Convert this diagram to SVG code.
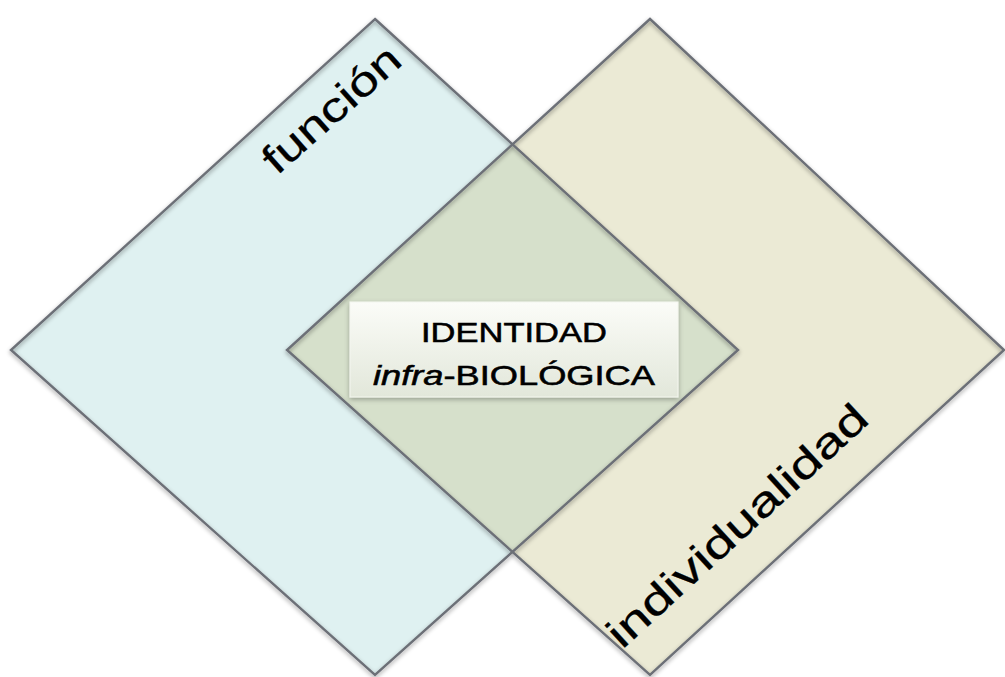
<svg xmlns="http://www.w3.org/2000/svg" width="1005" height="677" viewBox="0 0 1005 677">
  <defs>
    <filter id="soft" x="-5%" y="-5%" width="110%" height="110%">
      <feGaussianBlur in="SourceAlpha" stdDeviation="2.2"/>
      <feOffset dx="0" dy="1.5" result="b"/>
      <feFlood flood-color="#000" flood-opacity="0.4"/>
      <feComposite in2="b" operator="in" result="s"/>
      <feMerge><feMergeNode in="s"/><feMergeNode in="SourceGraphic"/></feMerge>
    </filter>
    <linearGradient id="boxFill" x1="0" y1="0" x2="0" y2="1">
      <stop offset="0" stop-color="#fbfcf8"/>
      <stop offset="1" stop-color="#e2e7da"/>
    </linearGradient>
    <filter id="boxShadow" x="-10%" y="-20%" width="120%" height="150%">
      <feGaussianBlur in="SourceAlpha" stdDeviation="2.5"/>
      <feOffset dx="0" dy="2" result="b"/>
      <feFlood flood-color="#000" flood-opacity="0.3"/>
      <feComposite in2="b" operator="in" result="s"/>
      <feMerge><feMergeNode in="s"/><feMergeNode in="SourceGraphic"/></feMerge>
    </filter>
  </defs>
  <style>
    .edge { fill: none; stroke: #6c6f77; stroke-width: 2.4; stroke-linejoin: miter; }
    .label { font-family: "Liberation Sans", Arial, sans-serif; fill: #000; }
    .big { font-size: 41px; stroke: #000; stroke-width: 0.3; }
    .title { font-size: 28px; text-anchor: middle; stroke: #000; stroke-width: 0.55; }
  </style>

  <rect width="1005" height="677" fill="#ffffff"/>

  <!-- function domain -->
  <g id="funcion">
    <polygon points="375,19 738,350 375,675 11,350" fill="#dff1f1"/>
  </g>

  <!-- individuality domain -->
  <g id="individualidad">
    <polygon points="650,19 1004,350 650,675 287,350" fill="#ebead5"/>
  </g>

  <!-- shared region -->
  <g id="interseccion">
    <polygon points="512.5,144.4 738,350 512.5,551.9 287,350" fill="#d6e0cb"/>
  </g>

  <!-- outlines of both domains -->
  <g id="bordes" filter="url(#soft)">
    <polygon class="edge" points="375,19 738,350 375,675 11,350"/>
    <polygon class="edge" points="650,19 1004,350 650,675 287,350"/>
  </g>

  <!-- domain labels -->
  <text class="label big" transform="translate(277,176) rotate(-41.5)" textLength="170" lengthAdjust="spacingAndGlyphs">función</text>
  <text class="label big" transform="translate(622,650) rotate(-42.5)" textLength="338" lengthAdjust="spacingAndGlyphs">individualidad</text>

  <!-- centre box -->
  <g id="identidad">
    <rect x="350" y="302" width="328" height="95" fill="url(#boxFill)" stroke="#f4f6ef" stroke-width="1" filter="url(#boxShadow)"/>
    <text class="label title" x="514" y="342" textLength="186" lengthAdjust="spacingAndGlyphs">IDENTIDAD</text>
    <text class="label title" x="514" y="385" textLength="282" lengthAdjust="spacingAndGlyphs"><tspan font-style="italic">infra</tspan>-BIOLÓGICA</text>
  </g>
</svg>
